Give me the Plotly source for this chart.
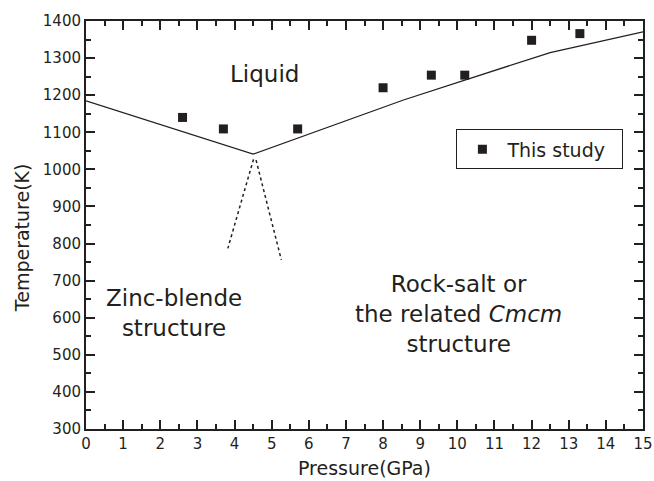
import plotly.graph_objects as go

# Data: "This study" measurements
pressure = [2.6, 3.7, 5.7, 8.0, 9.3, 10.2, 12.0, 13.3]
temperature = [1140, 1109, 1109, 1220, 1254, 1254, 1348, 1366]

# Melting curve (solid)
melt_p = [0, 4.5, 8.55, 12.5, 15]
melt_t = [1185, 1041, 1187, 1315, 1371]

# Phase boundaries (dotted)
zb_p = [4.51, 3.82]
zb_t = [1027, 787]
rs_p = [4.58, 5.26]
rs_t = [1025, 756]

x_ticks = list(range(0, 16))
y_ticks = list(range(300, 1401, 100))

INK = "#231f20"
FONT = "DejaVu Sans"

fig = go.Figure()
fig.add_trace(go.Scatter(x=melt_p, y=melt_t, mode="lines",
                         line=dict(color=INK, width=1.3), showlegend=False, hoverinfo="skip"))
fig.add_trace(go.Scatter(x=zb_p, y=zb_t, mode="lines",
                         line=dict(color=INK, width=1.5, dash="dot"), showlegend=False, hoverinfo="skip"))
fig.add_trace(go.Scatter(x=rs_p, y=rs_t, mode="lines",
                         line=dict(color=INK, width=1.5, dash="dot"), showlegend=False, hoverinfo="skip"))
fig.add_trace(go.Scatter(x=pressure, y=temperature, mode="markers", name="This study",
                         marker=dict(symbol="square", size=9, color=INK)))

axis_common = dict(
    showline=True, linecolor=INK, linewidth=2, mirror="ticks",
    ticks="inside", ticklen=9, tickwidth=1.5, tickcolor=INK,
    showgrid=False, zeroline=False, automargin=False,
    tickfont=dict(family=FONT, size=15, color=INK),
)

fig.update_xaxes(range=[0, 15], tickvals=x_ticks, ticktext=[str(v) for v in x_ticks],
                 minor=dict(ticks="inside", ticklen=5, tickwidth=1.5, tickcolor=INK, dtick=0.5, showgrid=False),
                 **axis_common)
fig.update_yaxes(range=[300, 1400], tickvals=y_ticks, ticktext=[str(v) for v in y_ticks],
                 minor=dict(ticks="inside", ticklen=5, tickwidth=1.5, tickcolor=INK, dtick=50, showgrid=False),
                 **axis_common)

ann_font = dict(family=FONT, size=23, color=INK)
fig.add_annotation(x=4.81, y=1257, text="Liquid", showarrow=False, font=ann_font)
fig.add_annotation(x=2.37, y=613, text="Zinc-blende<br>structure", showarrow=False, font=ann_font,
                   align="center")
fig.add_annotation(x=10.03, y=610, text="Rock-salt or<br>the related <i>Cmcm</i><br>structure",
                   showarrow=False, font=ann_font, align="center")

# Axis titles
fig.add_annotation(x=0.5, y=-0.0956, xref="paper", yref="paper", text="Pressure(GPa)",
                   showarrow=False, font=dict(family=FONT, size=19, color=INK), yanchor="middle")
fig.add_annotation(x=-0.115, y=0.47, xref="paper", yref="paper", text="Temperature(K)",
                   showarrow=False, textangle=-90, font=dict(family=FONT, size=19, color=INK),
                   xanchor="center", yanchor="middle")

fig.update_layout(
    width=654, height=481,
    margin=dict(l=86, r=11, t=21, b=52, autoexpand=False),
    paper_bgcolor="white", plot_bgcolor="white",
    showlegend=True,
    legend=dict(x=0.665, y=0.7346, xanchor="left", yanchor="top", orientation="h",
                bordercolor=INK, borderwidth=1, bgcolor="white",
                font=dict(family=FONT, size=19, color=INK), itemwidth=40,
                entrywidth=110, entrywidthmode="pixels"),
)

fig.write_html("out.html")
